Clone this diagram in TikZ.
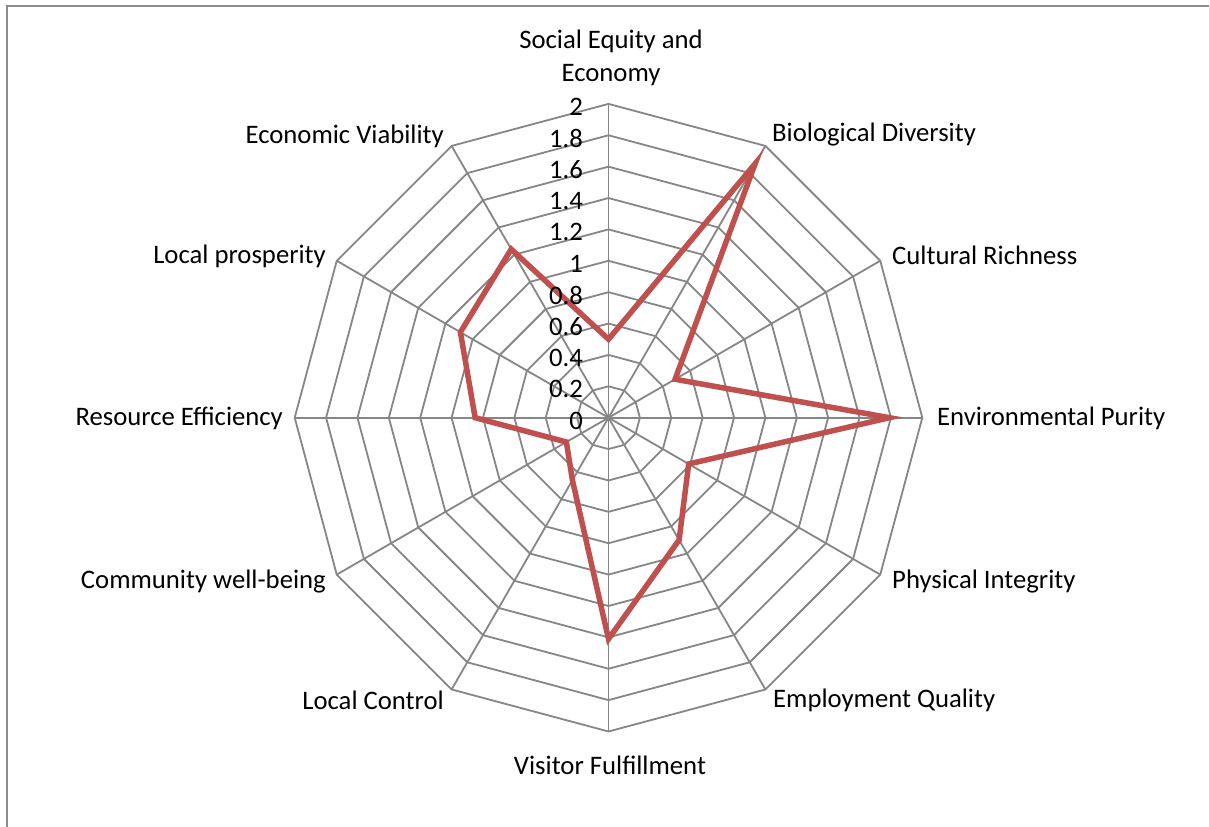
\documentclass[tikz,border=0pt]{standalone}
\usepackage{fontspec}
\setmainfont{Carlito}
\definecolor{gridgray}{HTML}{868686}
\definecolor{framegray}{HTML}{8C8C8C}
\definecolor{edgegray}{HTML}{D9D9D9}
\definecolor{datared}{HTML}{C0504D}
\begin{document}
\begin{tikzpicture}[x=1pt,y=1pt,
  gridline/.style={draw=gridgray, line width=1.8pt},
  dataline/.style={draw=datared, line width=5.5pt, line join=miter},
  axlabel/.style={font=\fontsize{26.7}{32.5}\selectfont, inner sep=0pt, align=center},
  ticklabel/.style={font=\fontsize{26.7}{32.5}\selectfont, inner sep=0pt, anchor=east}]
\useasboundingbox (0,0) rectangle (1210,827);
\fill[white] (0,0) rectangle (1210,827);
% frame
\draw[framegray, line width=2pt] (7,0) -- (7,821) -- (1209,821);
\draw[edgegray, line width=1pt] (1209,820) -- (1209,0);
% chart
\coordinate (C) at (608.5,409.3);
\begin{scope}[shift={(C)}]
  \foreach \i in {1,...,10} {
    \draw[gridline] (90:{\i*31.38}) \foreach \k in {1,...,11} { -- ({90-30*\k}:{\i*31.38}) } -- cycle;
  }
  \foreach \k in {0,...,11} {
    \draw[gridline] (0,0) -- ({90-30*\k}:313.8);
  }
  \foreach \v [count=\k from 0] in {0.5,1.87,0.49,1.79,0.59,0.90,1.41,0.46,0.31,0.85,1.09,1.24} {
    \coordinate (p\k) at ({90-30*\k}:{\v*156.9});
  }
  \draw[dataline] (p0) -- (p1) -- (p2) -- (p3) -- (p4) -- (p5) -- (p6) -- (p7) -- (p8) -- (p9) -- (p10) -- (p11) -- cycle;
\end{scope}
% tick labels
\foreach \t [count=\i from 0] in {0,0.2,0.4,0.6,0.8,1,1.2,1.4,1.6,1.8,2} {
  \node[ticklabel] (t\i) at (583,{409.3+\i*31.38-3}) {\t};
}
% axis labels
\node[axlabel] (l0) at (611,769) {Social Equity and\\Economy};
\node[axlabel, anchor=west] (l1) at (772,692) {Biological Diversity};
\node[axlabel, anchor=west] (l2) at (892,572) {Cultural Richness};
\node[axlabel, anchor=west] (l3) at (937,409) {Environmental Purity};
\node[axlabel, anchor=west] (l4) at (892,245) {Physical Integrity};
\node[axlabel, anchor=west] (l5) at (773,127) {Employment Quality};
\node[axlabel] (l6) at (610,62) {Visitor Fulfillment};
\node[axlabel, anchor=east] (l7) at (444,127) {Local Control};
\node[axlabel, anchor=east] (l8) at (326,245) {Community well-being};
\node[axlabel, anchor=east] (l9) at (283,409) {Resource Efficiency};
\node[axlabel, anchor=east] (l10) at (326,571) {Local prosperity};
\node[axlabel, anchor=east] (l11) at (444,691) {Economic Viability};
\end{tikzpicture}
\end{document}
